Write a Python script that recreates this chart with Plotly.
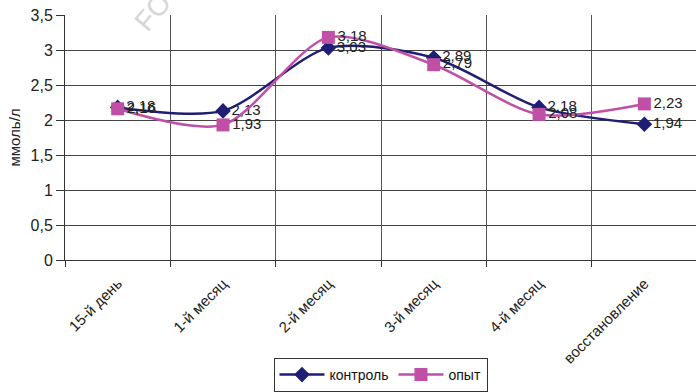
import plotly.graph_objects as go

# Periods of observation
categories = ["15-й день", "1-й месяц", "2-й месяц", "3-й месяц", "4-й месяц", "восстановление"]

# Concentration, mmol/l
control = [2.18, 2.13, 3.03, 2.89, 2.18, 1.94]
experiment = [2.16, 1.93, 3.18, 2.79, 2.08, 2.23]

y_ticks = [0, 0.5, 1, 1.5, 2, 2.5, 3, 3.5]

NAVY = "#1e1e75"
PINK = "#c050a6"
FONT = "Liberation Sans, Arial"


def fmt(v):
    return f"{v:.2f}".replace(".", ",")


fig = go.Figure()

fig.add_trace(go.Scatter(
    x=categories, y=control, name="контроль",
    mode="lines+markers+text",
    line=dict(color=NAVY, width=2.5, shape="spline", smoothing=0.8),
    marker=dict(symbol="diamond", size=12, color=NAVY),
    text=[fmt(v) for v in control], textposition="middle right",
    textfont=dict(family=FONT, size=15, color="#222222"),
    cliponaxis=False,
))

fig.add_trace(go.Scatter(
    x=categories, y=experiment, name="опыт",
    mode="lines+markers+text",
    line=dict(color=PINK, width=2.5, shape="spline", smoothing=0.8),
    marker=dict(symbol="square", size=13, color=PINK),
    text=[fmt(v) for v in experiment], textposition="middle right",
    textfont=dict(family=FONT, size=15, color="#222222"),
    cliponaxis=False,
))

# faint watermark fragment at the top edge
fig.add_annotation(
    text="FO", xref="paper", yref="paper",
    x=(152 - 65) / (696 - 65), y=(263 - 12) / (263 - 15),
    xanchor="center", yanchor="middle",
    showarrow=False, textangle=-50,
    font=dict(family=FONT, size=28, color="#d6d6d6"),
)

fig.update_layout(
    width=696, height=392,
    margin=dict(l=65, r=0, t=15, b=129),
    paper_bgcolor="white", plot_bgcolor="white",
    separators=", ",
    font=dict(family=FONT, size=14, color="#222222"),
    showlegend=True,
    legend=dict(
        orientation="h", x=0.5, xanchor="center", y=-0.40, yanchor="top",
        bordercolor="#333333", borderwidth=1,
        font=dict(size=14, color="#111111"),
        itemwidth=45,
    ),
    xaxis=dict(
        type="category", categoryorder="array", categoryarray=categories,
        range=[-0.5, 5.49],
        tickson="boundaries", ticks="outside", ticklen=6, tickcolor="#333333",
        showgrid=True, gridcolor="#555555", gridwidth=1,
        showline=True, linecolor="#333333", linewidth=1,
        tickangle=-45, tickfont=dict(size=15, color="#222222"),
        ticklabelstandoff=8,
        zeroline=False,
    ),
    yaxis=dict(
        range=[0, 3.5], tickvals=y_ticks,
        ticks="outside", ticklen=8, tickcolor="#333333",
        showgrid=True, gridcolor="#444444", gridwidth=1,
        showline=True, linecolor="#333333", linewidth=1,
        zeroline=False,
        tickfont=dict(size=16, color="#222222"),
        title=dict(text="ммоль/л", font=dict(size=15, color="#222222"), standoff=6),
    ),
)

fig.write_html("out.html")
